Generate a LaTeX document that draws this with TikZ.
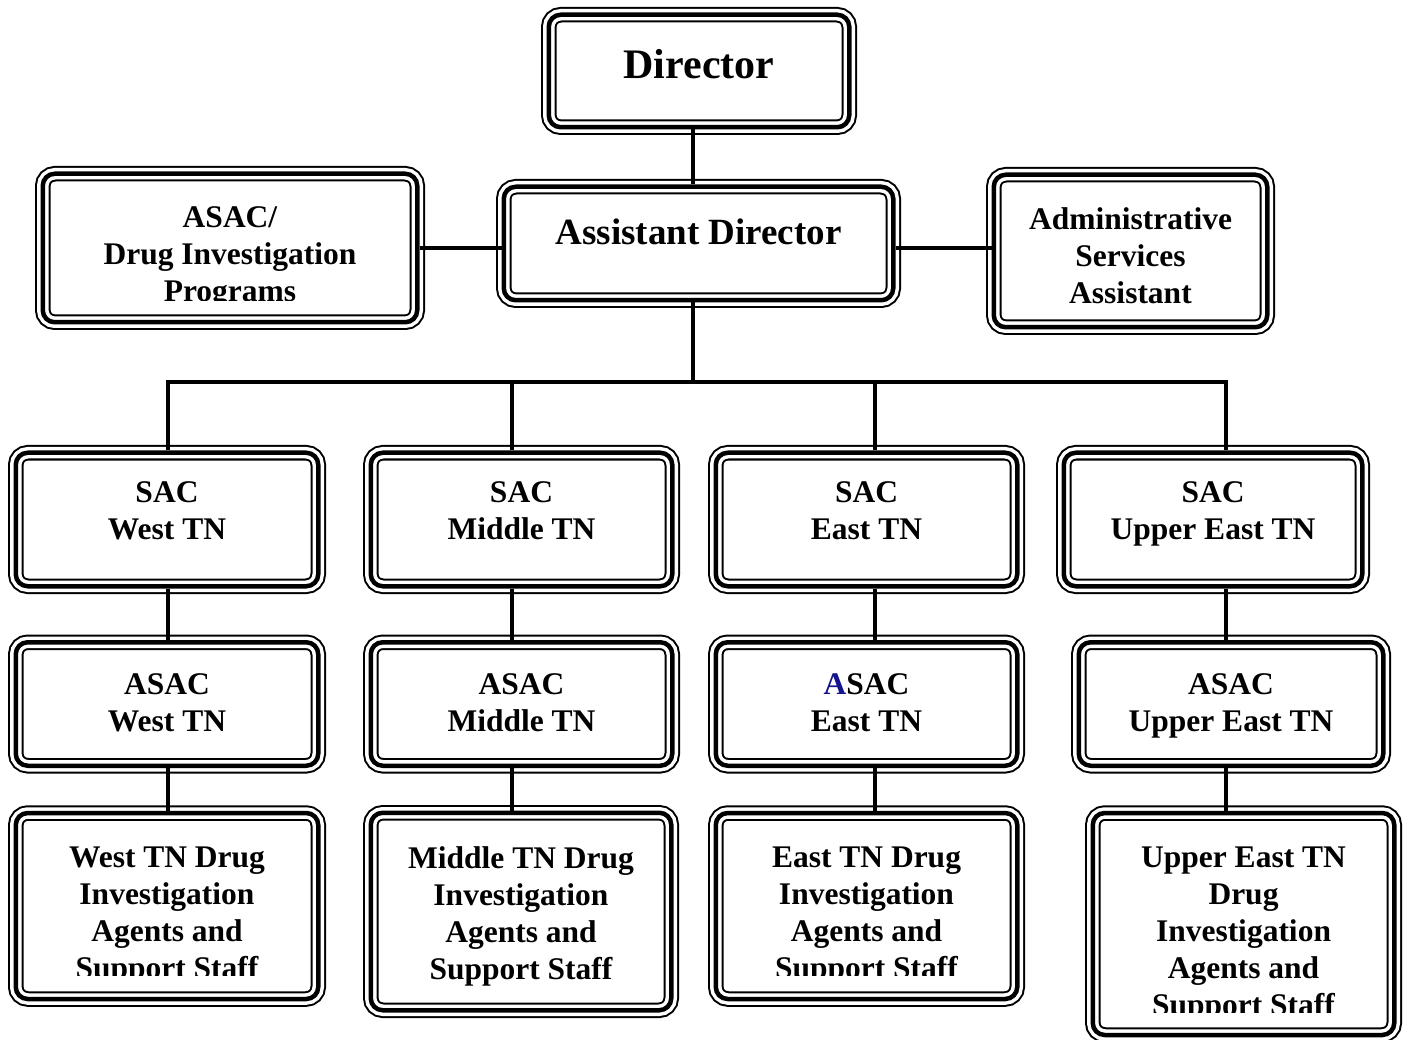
\documentclass[tikz,border=0pt]{standalone}
\usepackage{fontspec}
\setmainfont{Liberation Serif}
\definecolor{asacblue}{RGB}{20,20,140}
\newcommand{\boxfont}{\fontsize{31.5}{37}\selectfont\bfseries}
\tikzset{
  orgbox/.style={rectangle, rounded corners=12pt, draw, line width=4.5pt, inner sep=0pt,
    preaction={draw, line width=2pt, double=white, double distance=11.5pt}},
  boxtext/.style n args={3}{path picture={
    \clip (path picture bounding box.north west) rectangle ([yshift=#2]path picture bounding box.south east);
    \node[font=\boxfont, align=center, anchor=north, inner sep=0pt, minimum width=0pt, minimum height=0pt]
      at ([yshift=-#1]path picture bounding box.north) {#3};}},
  link/.style={line width=4.5pt}
}
\begin{document}
\begin{tikzpicture}[x=1pt, y=-1pt]
\useasboundingbox (0,0) rectangle (1406,1040);

% top level
\node (dir) [orgbox, minimum width=300.5pt, minimum height=112.5pt,
  boxtext={32pt}{0pt}{\fontsize{42}{48}\selectfont Director}] at (699,71) {};
\node (ad) [orgbox, minimum width=389.5pt, minimum height=113.5pt,
  boxtext={30pt}{0pt}{\fontsize{37}{43}\selectfont Assistant Director}] at (698.5,243.5) {};
\node (dip) [orgbox, minimum width=374.5pt, minimum height=148.5pt,
  boxtext={31pt}{22pt}{ASAC/\\Drug Investigation\\Programs}] at (230,248) {};
\node (adm) [orgbox, minimum width=273.5pt, minimum height=152.5pt,
  boxtext={31pt}{0pt}{Administrative\\Services\\Assistant}] at (1130.5,251) {};

% SAC row
\node (wsac) [orgbox, minimum width=302.5pt, minimum height=133.5pt,
  boxtext={27pt}{0pt}{SAC\\West TN}] at (167,519.5) {};
\node (msac) [orgbox, minimum width=301.5pt, minimum height=133.5pt,
  boxtext={27pt}{0pt}{SAC\\Middle TN}] at (521.5,519.5) {};
\node (esac) [orgbox, minimum width=301.5pt, minimum height=133.5pt,
  boxtext={27pt}{0pt}{SAC\\East TN}] at (866.5,519.5) {};
\node (usac) [orgbox, minimum width=298.5pt, minimum height=133.5pt,
  boxtext={27pt}{0pt}{SAC\\Upper East TN}] at (1213,519.5) {};

% ASAC row
\node (wasac) [orgbox, minimum width=302.5pt, minimum height=123.5pt,
  boxtext={29pt}{0pt}{ASAC\\West TN}] at (167,704) {};
\node (masac) [orgbox, minimum width=301.5pt, minimum height=123.5pt,
  boxtext={29pt}{0pt}{ASAC\\Middle TN}] at (521.5,704) {};
\node (easac) [orgbox, minimum width=301.5pt, minimum height=123.5pt,
  boxtext={29pt}{0pt}{\textcolor{asacblue}{A}SAC\\East TN}] at (866.5,704) {};
\node (uasac) [orgbox, minimum width=304.5pt, minimum height=123.5pt,
  boxtext={29pt}{0pt}{ASAC\\Upper East TN}] at (1231,704) {};

% staff row
\node (wstaff) [orgbox, minimum width=302.5pt, minimum height=186pt,
  boxtext={32pt}{24pt}{West TN Drug\\Investigation\\Agents and\\Support Staff}] at (167,906) {};
\node (mstaff) [orgbox, minimum width=300.5pt, minimum height=197.5pt,
  boxtext={32pt}{0pt}{Middle TN Drug\\Investigation\\Agents and\\Support Staff}] at (521,911.5) {};
\node (estaff) [orgbox, minimum width=301.5pt, minimum height=186pt,
  boxtext={32pt}{24pt}{East TN Drug\\Investigation\\Agents and\\Support Staff}] at (866.5,906) {};
\node (ustaff) [orgbox, minimum width=301.5pt, minimum height=222pt,
  boxtext={32pt}{23pt}{Upper East TN\\Drug\\Investigation\\Agents and\\Support Staff}] at (1243.5,924) {};

% bus coordinates
\coordinate (spine) at (693,382);
\coordinate (b1) at (168,382);
\coordinate (b2) at (512,382);
\coordinate (b3) at (875,382);
\coordinate (b4) at (1226,382);

% connectors
\draw [link] (spine |- dir.south) -- (spine |- ad.north);
\draw [link] (dip.east) -- (dip.east -| ad.west);
\draw [link] (dip.east -| ad.east) -- (dip.east -| adm.west);
\draw [link] (spine |- ad.south) -- (spine);
\draw [link] ([xshift=-2.25pt]b1) -- ([xshift=2.25pt]b4);
\foreach \b/\r in {b1/w, b2/m, b3/e, b4/u} {
  \draw [link] (\b) -- (\b |- \r sac.north);
  \draw [link] (\b |- \r sac.south) -- (\b |- \r asac.north);
  \draw [link] (\b |- \r asac.south) -- (\b |- \r staff.north);
}
\end{tikzpicture}
\end{document}
